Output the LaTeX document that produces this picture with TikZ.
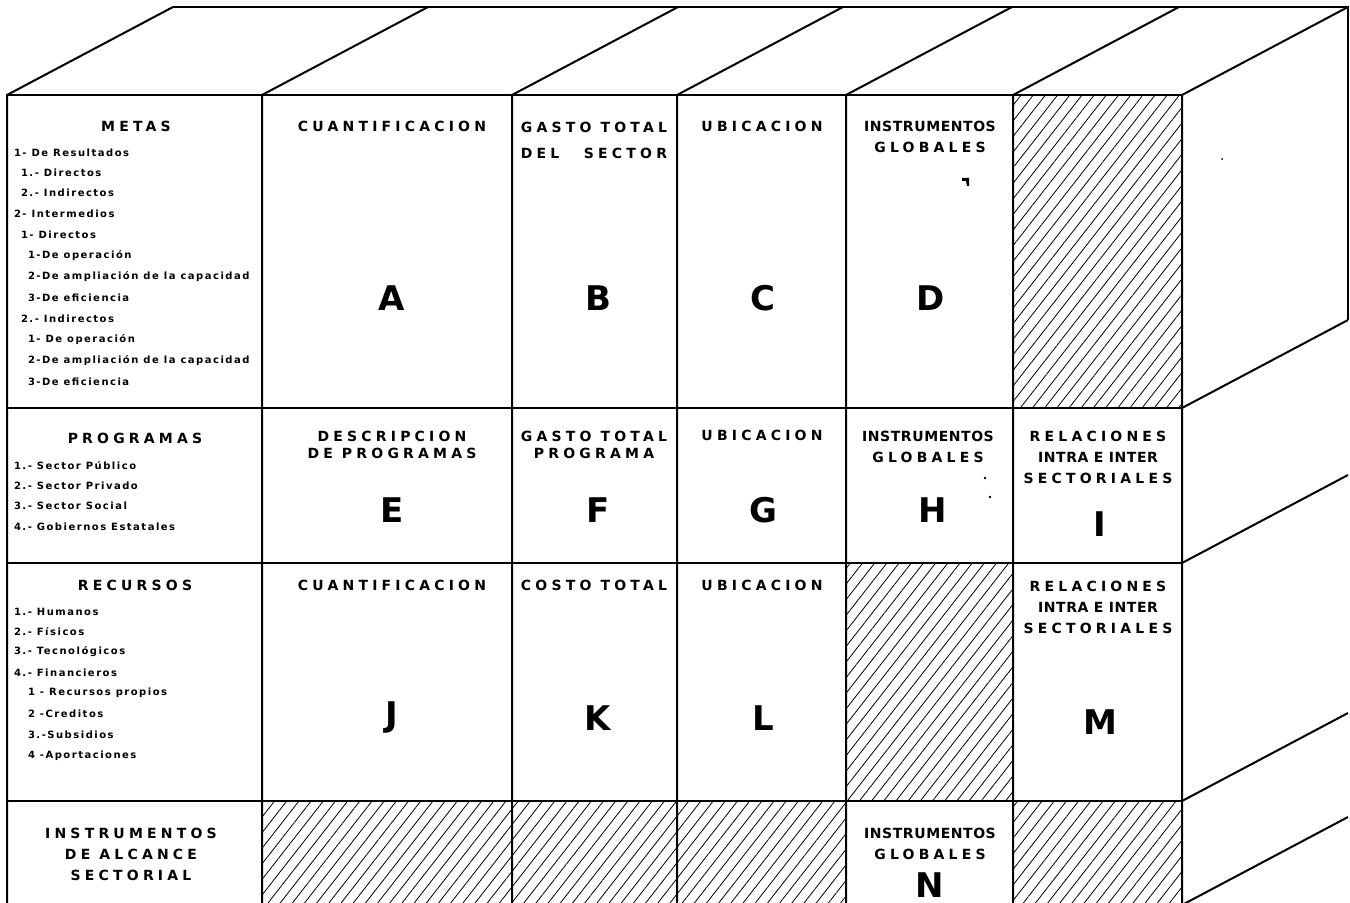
\documentclass[tikz,border=0pt]{standalone}
\usepackage{fontspec}
\setmainfont{DejaVu Sans}
\newfontfamily\hdrfont{DejaVu Sans}[LetterSpace=30]
\newfontfamily\narfont{DejaVu Sans}[LetterSpace=4]
\newfontfamily\lstfont{DejaVu Sans}[LetterSpace=15]
\usepackage{calc}
\usepackage{tikz}
\usetikzlibrary{patterns.meta}

\begin{document}
\begin{tikzpicture}[x=0.5pt,y=-0.5pt,line width=1pt,
  hdr/.style={font=\hdrfont\bfseries\fontsize{7}{10.5}\selectfont,inner sep=0pt,align=center},
  nar/.style={font=\narfont\bfseries\fontsize{7}{10.5}\selectfont,inner sep=0pt,align=center},
  lst/.style={font=\lstfont\bfseries\fontsize{5}{6}\selectfont,inner sep=0pt,anchor=west},
  big/.style={font=\bfseries\fontsize{17}{17}\selectfont,inner sep=0pt},
  hatch/.style={pattern={Lines[angle=52,distance=4.8pt,line width=0.4pt]}}]
  \useasboundingbox (0,0) rectangle (1350,903);
  \clip (0,0) rectangle (1350,903);
  % hatched cells
  \fill[hatch] (1013,95) rectangle (1182,408);
  \fill[hatch] (846,563) rectangle (1013,801);
  \fill[hatch] (262,801) rectangle (846,905);
  \fill[hatch] (1013,801) rectangle (1182,905);
  % front face, top face, side face
  \foreach \x in {7,262,512,677,846,1013,1182}
    \draw (\x,905) -- (\x,95) -- ++(166,-88);
  \foreach \y in {95,408,563,801}
    \draw (7,\y) -- (1182,\y);
  \foreach \y in {408,563,801,905}
    \draw (1182,\y) -- ++(166,-88);
  \draw (173,7) -- (1348,7) -- (1348,320);
  % specks of the print
  \fill (962,178) -- (969,178) -- (969,186) -- (967,186) -- (966,181) -- (962,181) -- cycle;
  \fill (985,478) circle (1.3);
  \fill (990,497) circle (1.3);
  \fill (1222,159) circle (1);
  % row headings
  \node[hdr] (metas) at (136,126) {METAS};
  \node[hdr] (programas) at (135,438) {PROGRAMAS};
  \node[hdr] (recursos) at (135,585) {RECURSOS};
  \node[hdr,anchor=north] (alcance) at (131,827) {INSTRUMENTOS\\DE ALCANCE\\SECTORIAL};
  \foreach \x/\y/\t in {13/153/{1- De Resultados},20/173/{1.- Directos},20/193/{2.- Indirectos},
      13/214/{2- Intermedios},20/235/{1- Directos},27/256/{1-De operación},
      27/277/{2-De ampliación de la capacidad},27/298/{3-De eficiencia},20/319/{2.- Indirectos},
      27/340/{1- De operación},27/361/{2-De ampliación de la capacidad},27/382/{3-De eficiencia},
      13/466/{1.- Sector Público},13/486/{2.- Sector Privado},13/506/{3.- Sector Social},
      13/527/{4.- Gobiernos Estatales},13/612/{1.- Humanos},13/632/{2.- Físicos},
      13/652/{3.- Tecnológicos},13/673/{4.- Financieros},27/693/{1 - Recursos propios},
      27/714/{2 -Creditos},27/735/{3.-Subsidios},27/756/{4 -Aportaciones}}
    \node[lst] (item\y) at (\x,\y) {\t};
  % first row
  \node[hdr] (cuant1) at (392,126) {CUANTIFICACION};
  \node[hdr,anchor=north] (gasto1) at (594,121) {GASTO TOTAL\\[2.5pt]\makebox[\widthof{GASTO TOTAL}]{DEL\hfill SECTOR}};
  \node[hdr] (ubic1) at (762,126) {UBICACION};
  \node[nar,anchor=north] (glob1) at (930,120) {INSTRUMENTOS\\\hdrfont GLOBALES};
  \node[big] (A) at (392,298) {A};
  \node[big] (B) at (598,298) {B};
  \node[big] (C) at (763,298) {C};
  \node[big] (D) at (931,298) {D};
  % second row
  \node[hdr,anchor=north] (descr) at (392,430) {DESCRIPCION\\[-2pt]DE PROGRAMAS};
  \node[hdr,anchor=north] (gasto2) at (594,430) {GASTO TOTAL\\[-2pt]PROGRAMA};
  \node[hdr] (ubic2) at (762,435) {UBICACION};
  \node[nar,anchor=north] (glob2) at (928,430) {INSTRUMENTOS\\\hdrfont GLOBALES};
  \node[hdr,anchor=north] (rel2) at (1098,430) {RELACIONES\\\narfont INTRA E INTER\\SECTORIALES};
  \node[big] (E) at (392,510) {E};
  \node[big] (F) at (598,510) {F};
  \node[big] (G) at (763,510) {G};
  \node[big] (H) at (933,510) {H};
  \node[big] (I) at (1100,524) {I};
  % third row
  \node[hdr] (cuant3) at (392,585) {CUANTIFICACION};
  \node[hdr] (costo3) at (594,585) {COSTO TOTAL};
  \node[hdr] (ubic3) at (762,585) {UBICACION};
  \node[hdr,anchor=north] (rel3) at (1098,580) {RELACIONES\\\narfont INTRA E INTER\\SECTORIALES};
  \node[big] (J) at (392,718) {J};
  \node[big] (K) at (598,718) {K};
  \node[big] (L) at (763,718) {L};
  \node[big] (M) at (1100,722) {M};
  % fourth row
  \node[nar,anchor=north] (glob4) at (930,827) {INSTRUMENTOS\\\hdrfont GLOBALES};
  \node[big] (N) at (930,885) {N};
\end{tikzpicture}
\end{document}
